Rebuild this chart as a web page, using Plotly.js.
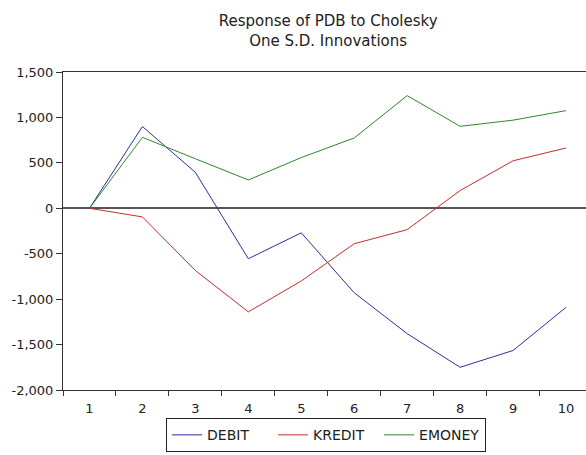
<!DOCTYPE html>
<html>
<head>
<meta charset="utf-8">
<script src="https://cdn.plot.ly/plotly-3.0.1.min.js"></script>
<style>
  html, body { margin: 0; padding: 0; background: #ffffff; }
  #chart { width: 586px; height: 455px; }
</style>
</head>
<body>
<div id="chart"></div>
<script>
const periods = ['1', '2', '3', '4', '5', '6', '7', '8', '9', '10'];
const debit  = [0, 900, 395, -555, -270, -930, -1380, -1750, -1565, -1090];
const kredit = [0, -95, -685, -1140, -800, -390, -235, 195, 523, 664];
const emoney = [0, 781, 545, 312, 558, 774, 1240, 902, 970, 1075];
const yTickVals = [-2000, -1500, -1000, -500, 0, 500, 1000, 1500];
const yTickText = ['-2,000', '-1,500', '-1,000', '-500', '0', '500', '1,000', '1,500'];

const font = 'DejaVu Sans, Arial, sans-serif';

const mk = (name, y, color) => ({
  type: 'scatter', mode: 'lines', name: name,
  x: periods, y: y,
  line: { color: color, width: 1 },
  hoverinfo: 'skip'
});

const data = [
  mk('DEBIT', debit, '#2e2e9c'),
  mk('KREDIT', kredit, '#cc2a2a'),
  mk('EMONEY', emoney, '#2a8a2a')
];

const layout = {
  width: 586, height: 455,
  margin: { l: 63, r: 0, t: 72, b: 65 },
  paper_bgcolor: '#ffffff', plot_bgcolor: '#ffffff',
  font: { family: font, color: '#222222', size: 13 },
  title: {
    text: 'Response of PDB to Cholesky<br>One S.D. Innovations',
    font: { family: font, size: 15, color: '#222222' },
    xref: 'paper', x: 0.507, xanchor: 'center',
    yref: 'container', y: 0.942, yanchor: 'middle'
  },
  showlegend: true,
  legend: {
    orientation: 'h',
    xref: 'paper', x: 0.503, xanchor: 'center',
    yref: 'container', y: 0.006, yanchor: 'bottom',
    entrywidth: 61, entrywidthmode: 'pixels',
    bordercolor: '#222222', borderwidth: 1,
    font: { family: font, size: 14, color: '#222222' },
    bgcolor: '#ffffff'
  },
  xaxis: {
    type: 'category',
    range: [-0.5, 9.377],
    tickson: 'boundaries',
    ticks: 'outside', ticklen: 5, tickcolor: '#333333', tickwidth: 1,
    ticklabelstandoff: 6,
    showline: true, linecolor: '#333333', linewidth: 1, mirror: true,
    showgrid: false, zeroline: false,
    tickfont: { family: font, size: 13, color: '#222222' },
    fixedrange: true
  },
  yaxis: {
    range: [-2000, 1500],
    tickmode: 'array',
    tickvals: yTickVals,
    ticktext: yTickText,
    ticks: 'outside', ticklen: 6, tickcolor: '#333333', tickwidth: 1,
    showline: true, linecolor: '#333333', linewidth: 1, mirror: false,
    showgrid: false,
    zeroline: true, zerolinecolor: '#555555', zerolinewidth: 2,
    tickfont: { family: font, size: 13, color: '#222222' },
    fixedrange: true
  }
};

Plotly.newPlot('chart', data, layout, { displayModeBar: false, staticPlot: true });
</script>
</body>
</html>
